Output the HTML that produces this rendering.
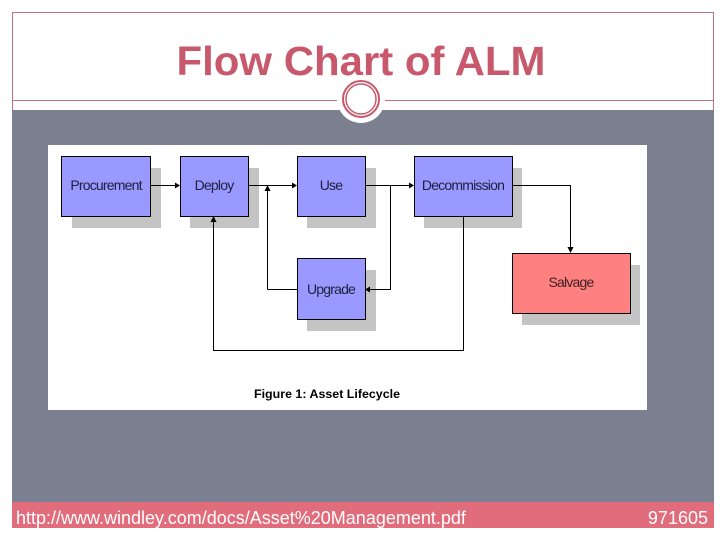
<!DOCTYPE html>
<html><head><style>
body{margin:0;width:720px;height:540px;background:#fff;overflow:hidden;font-family:"Liberation Sans",sans-serif;}
</style></head><body>
<svg width="720" height="540" xmlns="http://www.w3.org/2000/svg" font-family="Liberation Sans, sans-serif">
<rect x="12.5" y="12.5" width="701" height="515" fill="#fff" stroke="#c07080" stroke-width="1"/>
<text x="361" y="75" text-anchor="middle" font-size="41" font-weight="bold" fill="#c8586c" textLength="369" lengthAdjust="spacingAndGlyphs">Flow Chart of ALM</text>
<rect x="12" y="110" width="702" height="392" fill="#7b8090"/>
<line x1="12" y1="100.5" x2="714" y2="100.5" stroke="#c07080"/>
<circle cx="361" cy="99" r="24" fill="#fff"/>
<circle cx="361" cy="99" r="18" fill="none" stroke="#c8586c" stroke-width="2"/>
<circle cx="361" cy="99" r="15" fill="none" stroke="#c8586c" stroke-width="1.5"/>
<rect x="48" y="145" width="599" height="265" fill="#fff"/>
<g fill="#c4c4c4">
<rect x="72" y="168" width="89" height="60"/><rect x="190" y="168" width="69" height="60"/>
<rect x="307" y="168" width="69" height="60"/><rect x="424" y="168" width="98" height="60"/>
<rect x="307" y="270" width="69" height="61"/><rect x="522" y="265" width="118" height="60"/>
</g>
<g stroke="#000" stroke-width="1" fill="#9999ff">
<rect x="61.5" y="156.5" width="89" height="60"/><rect x="180.5" y="156.5" width="68" height="60"/>
<rect x="297.5" y="156.5" width="68" height="60"/><rect x="414.5" y="156.5" width="98" height="60"/>
<rect x="297.5" y="258.5" width="68" height="61"/><rect x="512.5" y="253.5" width="118" height="60" fill="#ff8080"/>
</g>
<g font-size="14" fill="#202040" text-anchor="middle" letter-spacing="-0.8">
<text x="106" y="190">Procurement</text><text x="214" y="190">Deploy</text>
<text x="331" y="190">Use</text><text x="463" y="190">Decommission</text>
<text x="331" y="294">Upgrade</text><text x="571" y="287" fill="#402020">Salvage</text>
</g>
<g stroke="#000" stroke-width="1" fill="none">
<path d="M150 185.5H176M248 185.5H293M267.5 289.5V189M297 289.5H267.5M365 185.5H410M390.5 185.5V289.5H369M512 185.5H570.5V249M463.5 216V350.5H213.5V220"/>
</g>
<g fill="#000">
<path d="M180 185.5l-5 -3v6z"/><path d="M297 185.5l-5 -3v6z"/><path d="M414 185.5l-5 -3v6z"/>
<path d="M267.5 185l-3 6h6z"/><path d="M365 289.5l5 -3v6z"/><path d="M570.5 253l-3 -6h6z"/><path d="M213.5 216l-3 6h6z"/>
</g>
<text x="327" y="398" text-anchor="middle" font-size="12" font-weight="bold" fill="#000" textLength="146" lengthAdjust="spacingAndGlyphs">Figure 1: Asset Lifecycle</text>
<rect x="12" y="502" width="702" height="26" fill="#e06c7c"/>
<text x="16" y="524" font-size="18" fill="#fff">http://www.windley.com/docs/Asset%20Management.pdf</text>
<text x="708" y="524" font-size="18" fill="#fff" text-anchor="end">971605</text>
</svg>
</body></html>
